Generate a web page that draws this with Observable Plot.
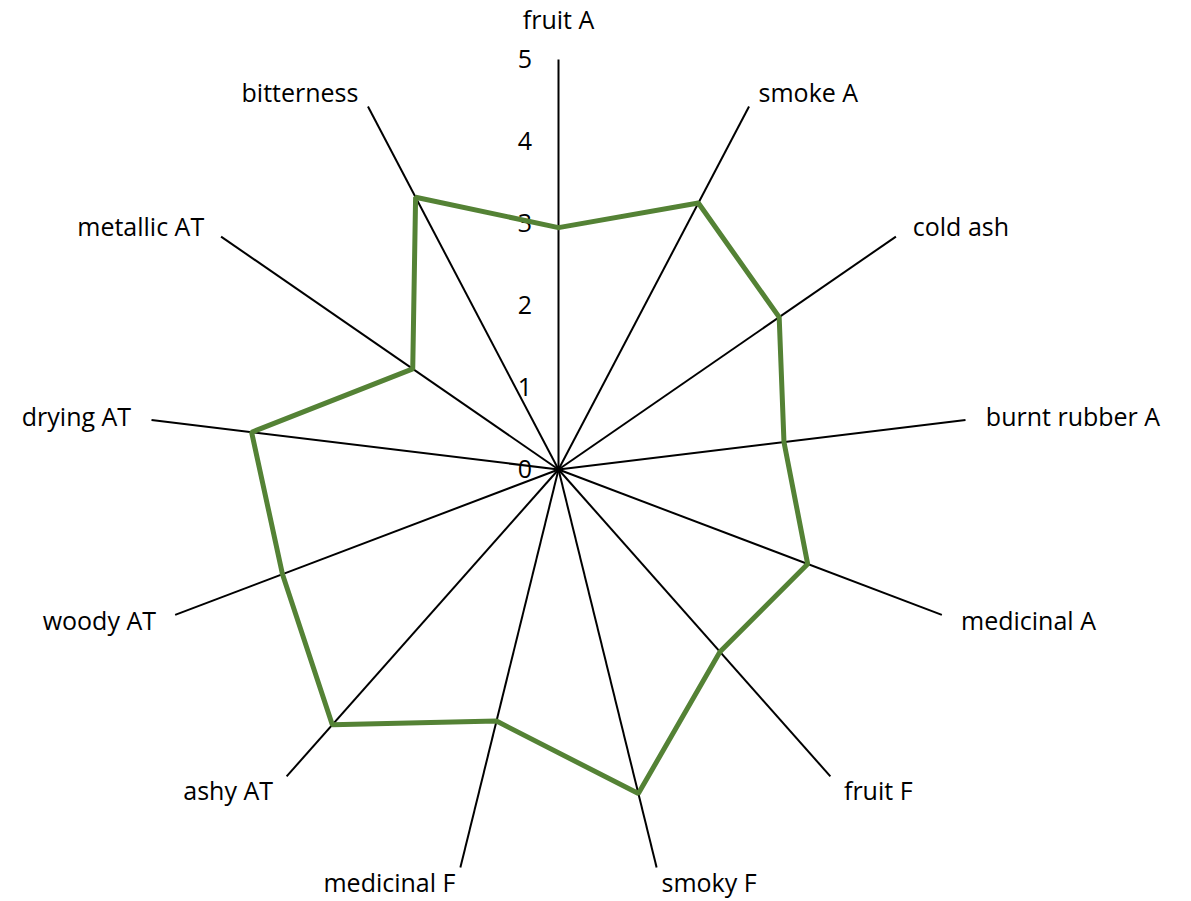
<!DOCTYPE html>
<html><head><meta charset="utf-8">
<script src="https://cdn.jsdelivr.net/npm/d3@7"></script>
<script src="https://cdn.jsdelivr.net/npm/@observablehq/plot@0.6"></script>
<style>body{margin:0;background:#fff;} #chart svg{display:block;}</style>
</head><body><div id="chart"></div>
<script>
const categories = ["fruit A","smoke A","cold ash","burnt rubber A","medicinal A","fruit F","smoky F","medicinal F","ashy AT","woody AT","drying AT","metallic AT","bitterness"];
const values = [2.95,3.67,3.27,2.77,3.25,2.97,4.07,3.16,4.16,3.6,3.77,2.16,3.75];
const tickLabels = [0,1,2,3,4,5];
const rMax = 5;

const W = 1191, H = 901;
const unit = 82, cx = 558, cy = 469;
const n = categories.length;
const ang = i => 2 * Math.PI * i / n;
const px = (r, i) => r * Math.sin(ang(i));
const py = (r, i) => r * Math.cos(ang(i));

const spokes = categories.map((c, i) => ({c, x1: 0, y1: 0, x2: px(rMax, i), y2: py(rMax, i)}));
const poly = values.map((v, i) => ({x: px(v, i), y: py(v, i)}));
poly.push(poly[0]);
const labels = categories.map((c, i) => {
  const s = Math.sin(ang(i)), co = Math.cos(ang(i));
  const r = Math.abs(s) < 0.1 ? 5.47 : 5.25;
  // small downward nudge for upper labels, upward nudge for the lowest ones
  const nudge = (Math.abs(s) < 0.1 ? 0 : co > 0 ? -6 * co : co < -0.9 ? 3 : 0) / unit;
  return {c, x: px(r, i), y: py(r, i) + nudge, anchor: s > 0.1 ? "start" : s < -0.1 ? "end" : "middle"};
});
const ticks = tickLabels.map(t => ({t, x: -0.41, y: t}));

const font = "'Open Sans', sans-serif";
const fs = 25;
const chart = Plot.plot({
  width: W, height: H,
  margin: 0,
  style: {fontFamily: font, background: "#fff"},
  x: {domain: [-cx / unit, (W - cx) / unit], range: [0, W], axis: null},
  y: {domain: [-(H - cy) / unit, cy / unit], range: [H, 0], axis: null},
  marks: [
    Plot.link(spokes, {x1: "x1", y1: "y1", x2: "x2", y2: "y2", stroke: "#000", strokeWidth: 2}),
    Plot.text(ticks, {x: "x", y: "y", text: d => String(d.t), fontSize: fs, fill: "#000", textAnchor: "middle"}),
    Plot.line(poly, {x: "x", y: "y", stroke: "#548235", strokeWidth: 5, strokeLinejoin: "miter", curve: "linear"}),
    ...["start", "middle", "end"].map(a =>
      Plot.text(labels.filter(d => d.anchor === a), {x: "x", y: "y", text: "c", textAnchor: a, fontSize: fs, fill: "#000"}))
  ]
});
document.getElementById("chart").appendChild(chart);
</script>
</body></html>
